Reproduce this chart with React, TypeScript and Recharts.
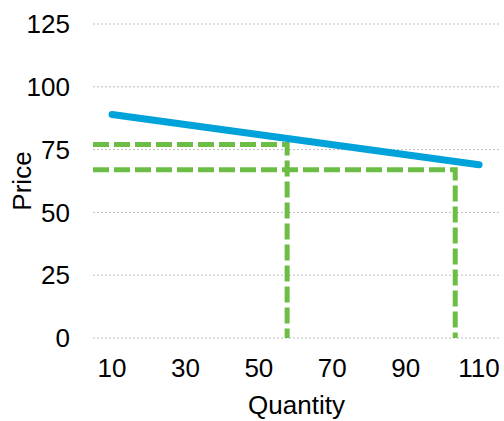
import { LineChart, Line, XAxis, YAxis, CartesianGrid } from 'recharts';

// demand curve endpoints
const demandQuantity = [10, 110];
const demandPrice = [89, 69];

// dashed guide lines (from the y axis to the point, then down to zero)
const guideA_Quantity = [4.8, 57.7, 57.7];
const guideA_Price = [77, 77, 0];
const guideB_Quantity = [4.8, 103.5, 103.5];
const guideB_Price = [67, 67, 0];

const xTicks = [10, 30, 50, 70, 90, 110];
const yTicks = [0, 25, 50, 75, 100, 125];

const toRows = (qs: number[], ps: number[]) => qs.map((q, i) => ({ q, p: ps[i] }));

const demand = toRows(demandQuantity, demandPrice);
const guideA = toRows(guideA_Quantity, guideA_Price);
const guideB = toRows(guideB_Quantity, guideB_Price);

const font = '"Liberation Sans", Arial, sans-serif';

export default function App() {
  return (
    <div style={{ position: 'absolute', left: 0, top: 0, background: '#fff' }}>
      <LineChart
        width={504}
        height={421}
        margin={{ top: 24, right: 4, left: 0, bottom: 0 }}
        style={{ fontFamily: font }}
      >
        <CartesianGrid vertical={false} stroke="#bdbdbd" strokeDasharray="2 2" />
        <XAxis
          type="number"
          dataKey="q"
          domain={[4.8, 115.7]}
          ticks={xTicks}
          allowDataOverflow
          axisLine={false}
          tickLine={false}
          tickSize={0}
          tickMargin={21}
          height={83}
          tick={{ fontSize: 26, fill: '#000' }}
          label={{ value: 'Quantity', position: 'insideBottom', offset: 7, fontSize: 26, fill: '#000' }}
        />
        <YAxis
          type="number"
          dataKey="p"
          domain={[0, 125]}
          ticks={yTicks}
          axisLine={false}
          tickLine={false}
          tickSize={0}
          tickMargin={23}
          width={93}
          tick={{ fontSize: 26, fill: '#000' }}
          label={{
            value: 'Price',
            angle: -90,
            position: 'insideLeft',
            offset: 22,
            fontSize: 26,
            fill: '#000',
            style: { textAnchor: 'middle' },
          }}
        />
        <Line
          data={guideA}
          dataKey="p"
          stroke="#6cbd45"
          strokeWidth={5}
          strokeDasharray="16 5"
          dot={false}
          type="linear"
          isAnimationActive={false}
        />
        <Line
          data={guideB}
          dataKey="p"
          stroke="#6cbd45"
          strokeWidth={5}
          strokeDasharray="16 5"
          dot={false}
          type="linear"
          isAnimationActive={false}
        />
        <Line
          data={demand}
          dataKey="p"
          stroke="#00a3d9"
          strokeWidth={7}
          strokeLinecap="round"
          dot={false}
          type="linear"
          isAnimationActive={false}
        />
      </LineChart>
    </div>
  );
}
